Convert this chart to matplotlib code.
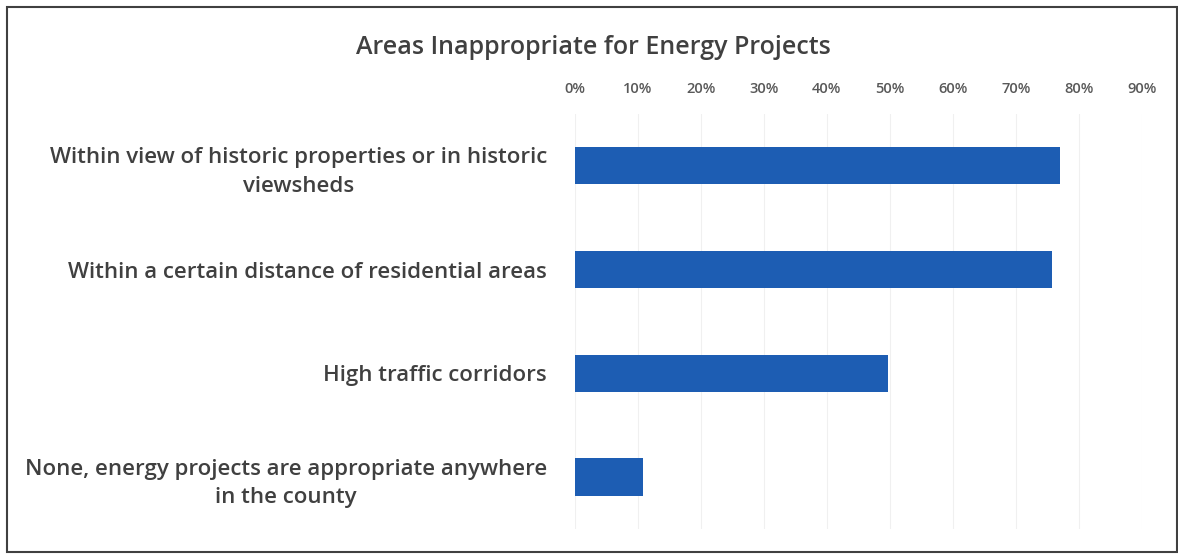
import numpy as np
import matplotlib
matplotlib.use("Agg")
import matplotlib.pyplot as plt
from matplotlib.patches import Rectangle
from matplotlib.ticker import PercentFormatter

plt.rcParams['font.family'] = ['Open Sans', 'DejaVu Sans']

# survey responses, top to bottom
categories = [
    "Within view of historic properties or in historic\nviewsheds",
    "Within a certain distance of residential areas",
    "High traffic corridors",
    "None, energy projects are appropriate anywhere\nin the county",
]
shares = [0.77, 0.757, 0.497, 0.108]
ticks = np.arange(0, 0.91, 0.1)

bar_color = '#1d5db3'
text_color = '#404040'

fig = plt.figure(figsize=(11.78, 5.55), dpi=100)
ax = fig.add_axes([0.488, 0.047, 0.4813, 0.7477])

y = np.arange(len(categories))
ax.barh(y, shares, height=0.36, color=bar_color)
ax.set_ylim(len(categories) - 0.5, -0.5)
ax.set_xlim(0, 0.9)

ax.set_yticks(y)
ax.set_yticklabels(categories, fontsize=16, fontweight='semibold',
                   color=text_color, multialignment='center', linespacing=1.45)
ax.tick_params(axis='y', length=0, pad=20)

ax.xaxis.tick_top()
ax.set_xticks(ticks)
ax.xaxis.set_major_formatter(PercentFormatter(1.0, decimals=0))
ax.tick_params(axis='x', length=0, pad=13, labelsize=10.5, labelcolor='#595959')
for lbl in ax.get_xticklabels():
    lbl.set_fontweight('semibold')

ax.grid(axis='x', color='#f0f0f0', linewidth=0.8)
ax.set_axisbelow(True)
for s in ax.spines.values():
    s.set_visible(False)

fig.text(0.504, 0.914, "Areas Inappropriate for Energy Projects",
         ha='center', va='center', fontsize=18, fontweight='semibold',
         color=text_color)

# outer chart frame
fig.patches.append(Rectangle((0.006, 0.006), 0.993, 0.982, transform=fig.transFigure,
                             fill=False, edgecolor='#404040', linewidth=1.5))

fig.savefig("out.png", dpi=100)
